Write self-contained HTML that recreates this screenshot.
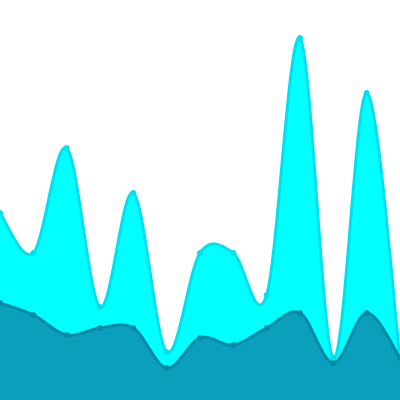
<!DOCTYPE html>
<html><head><meta charset="utf-8"><style>html,body{margin:0;padding:0;background:#fff}svg{display:block}</style></head>
<body>
<svg id="chart" width="400" height="400" viewBox="0 0 400 400"></svg>
<script>
const categories = ["1","2","3","4","5","6","7","8","9","10","11","12","13"];
const upperSeries = [46.75,36.75,63,23.25,51.75,12,36.75,36.75,26.25,90.5,10.5,76.75,10.5];
const lowerSeries = [24.25,21.25,16.25,18,18,8,15.5,13.75,18,21.75,9.25,21.75,10.5];
const W=400,H=400;
function xScale(i){return i*W/(categories.length-1);}
function yScale(v){return H-v*H/100;}
function pathFor(vals){
  const p=vals.map((v,i)=>[xScale(i),yScale(v)]);
  let d="M"+p[0][0]+","+p[0][1];
  for(let i=0;i<p.length-1;i++){
    const p0=p[i-1]||p[i],p1=p[i],p2=p[i+1],p3=p[i+2]||p2;
    const c1x=p1[0]+(p2[0]-p0[0])/6,c1y=p1[1]+(p2[1]-p0[1])/6;
    const c2x=p2[0]-(p3[0]-p1[0])/6,c2y=p2[1]-(p3[1]-p1[1])/6;
    d+=` C${c1x},${c1y} ${c2x},${c2y} ${p2[0]},${p2[1]}`;
  }
  return d;
}
const svg=document.getElementById('chart');
const NS="http://www.w3.org/2000/svg";
function draw(vals,fill,stroke,name){
  const g=document.createElementNS(NS,'g');
  
  
  const line=pathFor(vals);
  const area=document.createElementNS(NS,'path');
  area.setAttribute('d',line+` L${W},${H} L0,${H} Z`);
  area.setAttribute('fill',fill);
  
  
  g.appendChild(area);
  const l=document.createElementNS(NS,'path');
  l.setAttribute('d',line);
  l.setAttribute('fill','none');
  l.setAttribute('stroke',stroke);
  l.setAttribute('stroke-width','3');
  
  
  g.appendChild(l);
  vals.forEach((v,i)=>{
    const c=document.createElementNS(NS,'circle');
    c.setAttribute('cx',xScale(i));c.setAttribute('cy',yScale(v));c.setAttribute('r','3');
    c.setAttribute('fill',stroke);
    
    
    g.appendChild(c);
  });
  svg.appendChild(g);
}
draw(upperSeries,'#00ffff','#00e0ee','upper');
draw(lowerSeries,'#0a9fbc','#0889a8','lower');
</script>
</body></html>
